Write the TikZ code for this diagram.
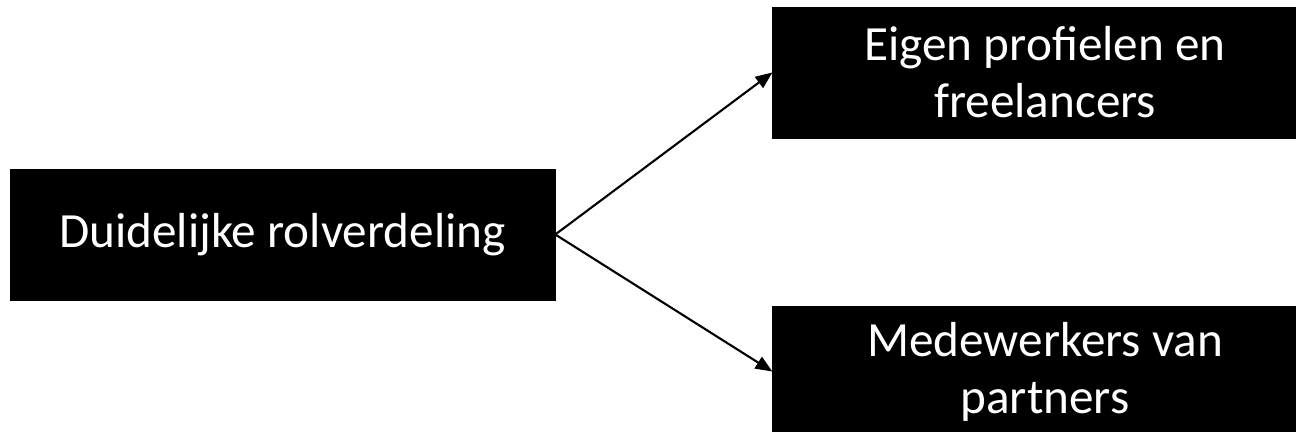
\documentclass[tikz,border=0pt]{standalone}
\usepackage{fontspec}
\setmainfont{Carlito}
\usepackage{tikz}
\usetikzlibrary{arrows}
\usetikzlibrary{positioning}

\tikzset{
	rolbox/.style={rectangle, fill=black, draw=black, text=white, align=center,
		minimum width=10.9cm, minimum height=2.62cm, inner sep=0pt,
		font=\fontsize{28}{32.5}\selectfont},
	pijl/.style={-triangle 45, line width=1.2pt}
}

\begin{document}
\begin{tikzpicture}[x=0.02cm,y=-0.02cm]
			\clip (0,0) rectangle (1296,432);
			\node[rolbox] (rolverdeling) at (282.5,234.5) {Duidelijke rolverdeling};
			\node[rolbox] [right=4.34cm of rolverdeling, yshift=3.24cm] (eigen) {Eigen profielen en\\freelancers};
			\node[rolbox] [right=4.34cm of rolverdeling, yshift=-2.74cm] (partners) {Medewerkers van\\partners};
			
			\path[pijl]
			(rolverdeling.east) edge (eigen.west)
								edge (partners.west)
			;
		\end{tikzpicture}
\end{document}
